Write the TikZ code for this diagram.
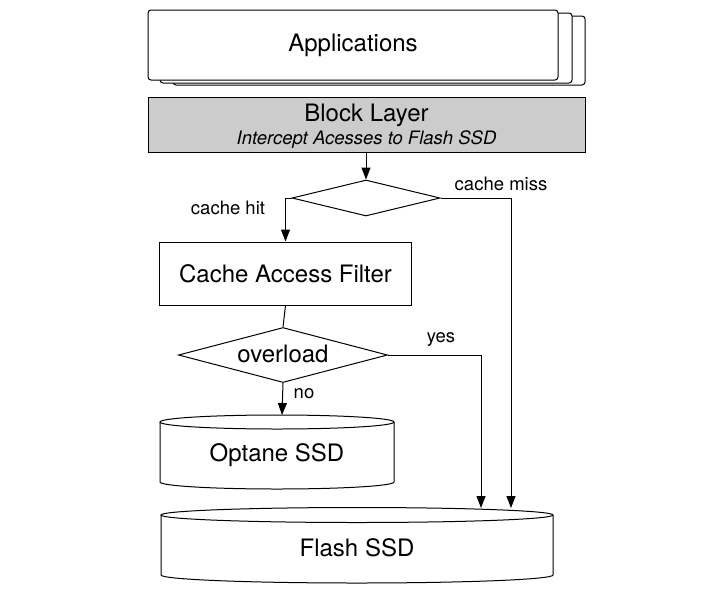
\documentclass[tikz,border=0pt]{standalone}
\usepackage{fontspec}
\setmainfont{TeX Gyre Heros}
\usetikzlibrary{shapes.geometric,arrows.meta}
\tikzset{
  box/.style={draw, line width=1pt, inner sep=0pt},
  appbox/.style={box, fill=white, rounded corners=3pt, minimum width=411pt, minimum height=70pt},
  dia/.style={draw, diamond, line width=1pt, inner sep=0pt, fill=white},
  big/.style={font=\fontsize{24}{28}\selectfont},
  small/.style={font=\fontsize{18.5}{21}\selectfont},
  arr/.style={line width=1pt, -{Triangle[length=12pt,width=9pt]}},
  ln/.style={line width=1pt},
  cyl/.style={line width=1pt, fill=white}
}
\begin{document}
\begin{tikzpicture}[x=1pt,y=-1pt]
\useasboundingbox (0,0) rectangle (727,589);
% Applications stack
\node[appbox, minimum width=412pt, minimum height=69pt] (app3) at (379,50.5) {};
\node[appbox, minimum width=412pt, minimum height=70pt] (app2) at (366,48) {};
\node[appbox, minimum width=410pt, minimum height=70pt, big] (app) at (353,45) {Applications};
% Block layer
\node[box, fill=gray!40, minimum width=437pt, minimum height=55pt] (block) at (366.5,124.5) {};
\node[big] (blt) at (366.5,115.5) {Block Layer};
\node[small] (bls) at (366.5,139.5) {\itshape Intercept Acesses to Flash SSD};
% Decision 1
\node[dia, minimum width=148pt, minimum height=36pt] (d1) at (366,198) {};
% Cache access filter
\node[box, minimum width=252pt, minimum height=63pt, big] (caf) at (285.5,273.5) {Cache Access Filter};
% Decision 2
\node[dia, minimum width=209pt, minimum height=55pt] (d2) at (283,355) {};
\node[big] (ovl) at (283,354) {overload};
% Optane cylinder
\draw[cyl] (160,422) -- (160,482) arc[start angle=180,end angle=360,x radius=117pt,y radius=7pt] -- (394,422);
\draw[cyl] (277,422) ellipse [x radius=117pt, y radius=7pt];
\node[big] (opt) at (277,455) {Optane SSD};
% Flash cylinder
\draw[cyl] (161,515) -- (161,575) arc[start angle=180,end angle=360,x radius=196pt,y radius=8pt] -- (553,515);
\draw[cyl] (357,515) ellipse [x radius=196pt, y radius=7.5pt];
\node[big] (flash) at (357,548) {Flash SSD};
% coordinates
\coordinate (opttop) at (282,415);
\coordinate (missend) at (511,508);
\coordinate (yesend) at (481,508);
% connectors
\draw[arr] (block.south -| d1.north) -- (d1.north);
\draw[arr] (d1.west) -| (caf.north);
\draw[arr] (d1.east) -| (missend);
\draw[ln] (caf.south) -- (d2.north);
\draw[arr] (d2.south) -- (opttop);
\draw[arr] (d2.east) -| (yesend);
% labels
\node[small] (lhit) at (228,208) {cache hit};
\node[small] (lmiss) at (501,184) {cache miss};
\node[small] (lyes) at (441,340) {yes};
\node[small] (lno) at (304,394) {no};
\end{tikzpicture}
\end{document}
